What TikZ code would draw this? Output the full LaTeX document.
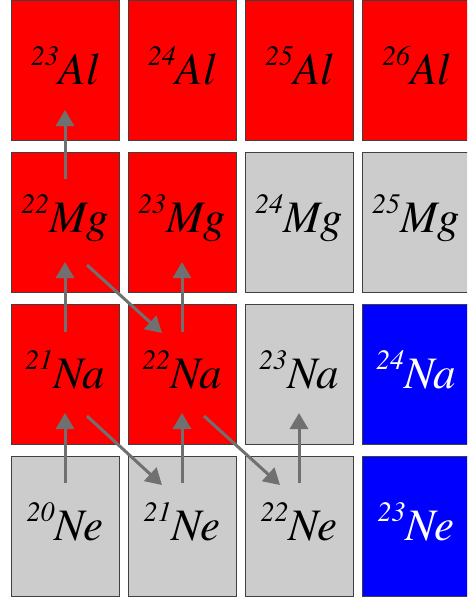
\documentclass[tikz,border=0pt]{standalone}
\usepackage{fontspec}
\setmainfont{texgyretermes-regular.otf}[ItalicFont=texgyretermes-italic.otf]
\usetikzlibrary{arrows.meta,calc}
\definecolor{arr}{RGB}{112,112,112}
\definecolor{boxgray}{RGB}{204,204,204}
\definecolor{boxred}{RGB}{255,0,0}
\definecolor{boxblue}{RGB}{0,0,255}
\newcommand{\iso}[2]{{\fontsize{28}{30}\selectfont\raisebox{19pt}{#1}}{\fontsize{45}{50}\selectfont #2}}
\begin{document}
\begin{tikzpicture}[x=1pt,y=-1pt,
  box/.style={draw=black!75, line width=0.8pt, minimum width=108pt, minimum height=140pt, inner sep=0pt, outer sep=0pt},
  redbox/.style={box, fill=boxred},
  graybox/.style={box, fill=boxgray},
  bluebox/.style={box, fill=boxblue},
  lbl/.style={inner sep=0pt, font=\itshape, text=black},
  wlbl/.style={lbl, text=white},
  flow/.style={draw=arr, line width=3pt, -{Triangle[width=18pt,length=16pt]}}
]
\useasboundingbox (0,0) rectangle (467,597);
\clip (0,0) rectangle (467,597);
% row 1
\node[redbox] (al23) at (65,70) {};
\node[redbox] (al24) at (182,70) {};
\node[redbox] (al25) at (299,70) {};
\node[redbox] (al26) at (416,70) {};
% row 2
\node[redbox] (mg22) at (65,222) {};
\node[redbox] (mg23) at (182,222) {};
\node[graybox] (mg24) at (299,222) {};
\node[graybox] (mg25) at (416,222) {};
% row 3
\node[redbox] (na21) at (65,374) {};
\node[redbox] (na22) at (182,374) {};
\node[graybox] (na23) at (299,374) {};
\node[bluebox] (na24) at (416,374) {};
% row 4
\node[graybox] (ne20) at (65,526) {};
\node[graybox] (ne21) at (182,526) {};
\node[graybox] (ne22) at (299,526) {};
\node[bluebox] (ne23) at (416,526) {};
% labels
\node[lbl] (tal23) at ($(al23)+(0,-4)$) {\iso{23}{Al}};
\node[lbl] (tal24) at ($(al24)+(0,-4)$) {\iso{24}{Al}};
\node[lbl] (tal25) at ($(al25)+(0,-4)$) {\iso{25}{Al}};
\node[lbl] (tal26) at ($(al26)+(0,-4)$) {\iso{26}{Al}};
\node[lbl] (tmg22) at ($(mg22)+(0,-4)$) {\iso{22}{Mg}};
\node[lbl] (tmg23) at ($(mg23)+(0,-4)$) {\iso{23}{Mg}};
\node[lbl] (tmg24) at ($(mg24)+(0,-4)$) {\iso{24}{Mg}};
\node[lbl] (tmg25) at ($(mg25)+(0,-4)$) {\iso{25}{Mg}};
\node[lbl] (tna21) at ($(na21)+(0,-4)$) {\iso{21}{Na}};
\node[lbl] (tna22) at ($(na22)+(0,-4)$) {\iso{22}{Na}};
\node[lbl] (tna23) at ($(na23)+(0,-4)$) {\iso{23}{Na}};
\node[wlbl] (tna24) at ($(na24)+(0,-4)$) {\iso{24}{Na}};
\node[lbl] (tne20) at ($(ne20)+(0,-4)$) {\iso{20}{Ne}};
\node[lbl] (tne21) at ($(ne21)+(0,-4)$) {\iso{21}{Ne}};
\node[lbl] (tne22) at ($(ne22)+(0,-4)$) {\iso{22}{Ne}};
\node[wlbl] (tne23) at ($(ne23)+(0,-4)$) {\iso{23}{Ne}};
% arrows
\draw[flow] ($(mg22)+(0,-43)$) -- ($(al23)+(0,40)$);
\draw[flow] ($(na21)+(0,-42)$) -- ($(mg22)+(0,40)$);
\draw[flow] ($(ne20)+(0,-43)$) -- ($(na21)+(0,39)$);
\draw[flow] ($(na22)+(0,-42)$) -- ($(mg23)+(0,40)$);
\draw[flow] ($(ne21)+(0,-43)$) -- ($(na22)+(0,39)$);
\draw[flow] ($(ne22)+(0,-43)$) -- ($(na23)+(0,39)$);
\draw[flow] ($(mg22)+(22,43)$) -- ($(na22)+(-20,-41)$);
\draw[flow] ($(na21)+(22,42)$) -- ($(ne21)+(-20,-41)$);
\draw[flow] ($(na22)+(22,42)$) -- ($(ne22)+(-19,-41)$);
\end{tikzpicture}
\end{document}
